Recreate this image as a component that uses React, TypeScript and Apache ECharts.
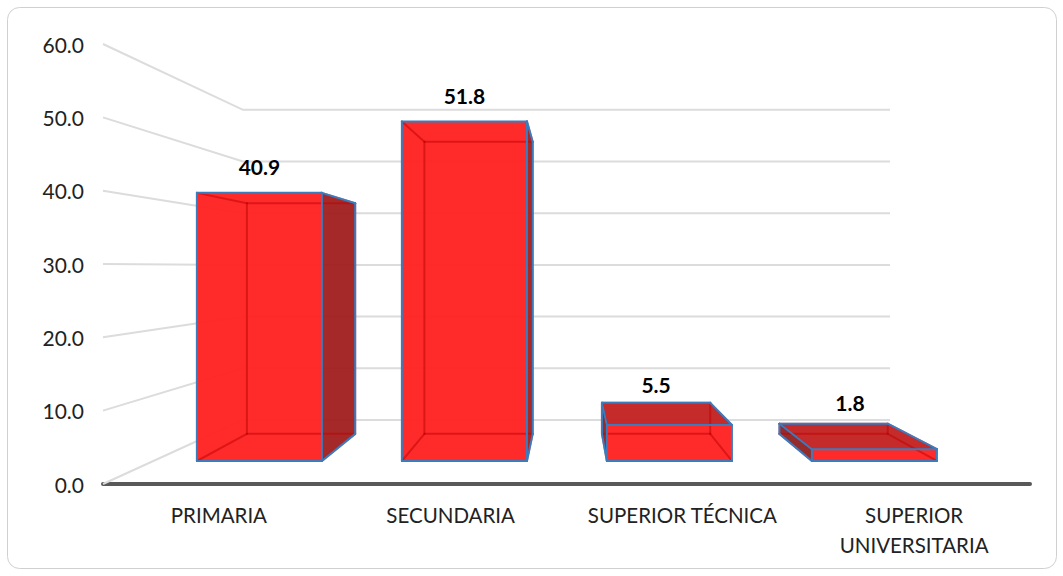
import React, { useEffect, useRef } from "react";
import * as echarts from "echarts";

const categories = ["PRIMARIA", "SECUNDARIA", "SUPERIOR TÉCNICA", "SUPERIOR\nUNIVERSITARIA"];
const values = [40.9, 51.8, 5.5, 1.8];
const yTicks = [0, 10, 20, 30, 40, 50, 60];

// Perspective model of the 3D plot: s = shrink towards the vanishing point
const WALL = { sx: 0.698, sy: 0.705 };
const FRONT = { sx: 0.8846, sy: 0.894 };
const BACK = { sx: 0.766, sy: 0.769 };
const VANISH_Y = 267;
const VANISH_X_BARS = 570;
const BAR_WIDTH = 0.61;
// Placement of each value label: depth blend (0 = front face, 1 = back face) and lift
const labelDepth = [0, 0, 1, 0.6];
const labelLift = [26, 26, 18, 21];

const FONT = "Lato, Carlito, sans-serif";
const BLUE = "#3b7cbd";
const HIDDEN = "rgba(190,0,0,0.5)";

const poly = (points: number[][], fill: string, opacity = 1) => ({
  type: "polygon",
  shape: { points },
  style: { fill, opacity, stroke: "none" },
});
const edge = (a: number[], b: number[], stroke: string, lineWidth: number) => ({
  type: "line",
  shape: { x1: a[0], y1: a[1], x2: b[0], y2: b[1] },
  style: { stroke, lineWidth, lineCap: "round" },
});

function renderWall(params: any, api: any) {
  const rect = params.coordSys;
  const y = api.coord([0, api.value(1)])[1];
  const cx = rect.x + rect.width / 2;
  const wy = VANISH_Y + (y - VANISH_Y) * WALL.sy;
  const points = [
    [rect.x, y],
    [cx - (rect.width / 2) * WALL.sx, wy],
    [cx + (rect.width / 2) * WALL.sx, wy],
  ];
  return {
    type: "polyline",
    shape: { points },
    style: { fill: "none", stroke: "#dcdcdc", lineWidth: 2 },
  };
}

function renderBar(params: any, api: any) {
  const idx = api.value(0);
  const val = api.value(1);
  const top = api.coord([idx, val]);
  const bottom = api.coord([idx, 0]);
  const half = (api.size([1, 0])[0] * BAR_WIDTH) / 2;
  const pt = (x: number, y: number, d: { sx: number; sy: number }) => [
    VANISH_X_BARS + (x - VANISH_X_BARS) * d.sx,
    VANISH_Y + (y - VANISH_Y) * d.sy,
  ];
  const fTL = pt(top[0] - half, top[1], FRONT);
  const fTR = pt(top[0] + half, top[1], FRONT);
  const fBL = pt(top[0] - half, bottom[1], FRONT);
  const fBR = pt(top[0] + half, bottom[1], FRONT);
  const bTL = pt(top[0] - half, top[1], BACK);
  const bTR = pt(top[0] + half, top[1], BACK);
  const bBL = pt(top[0] - half, bottom[1], BACK);
  const bBR = pt(top[0] + half, bottom[1], BACK);

  const showRight = bTR[0] > fTR[0];
  const showLeft = bTL[0] < fTL[0];
  const showTop = bTL[1] < fTL[1];

  const children: any[] = [];
  if (showRight) children.push(poly([fTR, bTR, bBR, fBR], "#a01c1c", 0.94));
  if (showLeft) children.push(poly([fTL, bTL, bBL, fBL], "#8e1f1f", 0.94));
  if (showTop) children.push(poly([bTL, bTR, fTR, fTL], "#c42222", 0.96));
  children.push(poly([fTL, fTR, fBR, fBL], "#ff2020", 0.95));

  // edges seen through the translucent box
  children.push(
    edge(bTL, bTR, HIDDEN, 2),
    edge(bBL, bBR, HIDDEN, 2),
    edge(bTL, bBL, HIDDEN, 2),
    edge(bTR, bBR, HIDDEN, 2),
    edge(fTL, bTL, HIDDEN, 2),
    edge(fTR, bTR, HIDDEN, 2),
    edge(fBL, bBL, HIDDEN, 2),
    edge(fBR, bBR, HIDDEN, 2)
  );

  // visible outline
  if (showTop) children.push(edge(bTL, bTR, BLUE, 2));
  if (showTop || showRight) children.push(edge(fTR, bTR, BLUE, 2));
  if (showTop || showLeft) children.push(edge(fTL, bTL, BLUE, 2));
  if (showRight) children.push(edge(bTR, bBR, BLUE, 2), edge(bBR, fBR, BLUE, 2));
  if (showLeft) children.push(edge(bTL, bBL, BLUE, 2), edge(bBL, fBL, BLUE, 2));
  children.push(
    edge(fTL, fTR, BLUE, 2),
    edge(fTR, fBR, BLUE, 2),
    edge(fBR, fBL, BLUE, 2),
    edge(fBL, fTL, BLUE, 2)
  );

  const w = labelDepth[idx];
  const frontCx = (fTL[0] + fTR[0]) / 2;
  const backCx = (bTL[0] + bTR[0]) / 2;
  children.push({
    type: "text",
    style: {
      x: frontCx + (backCx - frontCx) * w,
      y: Math.min(fTL[1], bTL[1]) - labelLift[idx],
      text: val.toFixed(1),
      align: "center",
      verticalAlign: "middle",
      fill: "#000",
      font: `bold 21px ${FONT}`,
    },
  });
  return { type: "group", children };
}

export default function App() {
  const ref = useRef<HTMLDivElement>(null);
  useEffect(() => {
    const chart = echarts.init(ref.current!, undefined, { renderer: "svg" });
    chart.setOption({
      animation: false,
      backgroundColor: "#fff",
      graphic: [
        {
          type: "rect",
          silent: true,
          z: -10,
          shape: { x: 7.5, y: 7.5, width: 1049, height: 561, r: 12 },
          style: { fill: "#fff", stroke: "#d0d0d0", lineWidth: 1 },
        },
      ],
      grid: { left: 103, top: 44, width: 927, height: 440 },
      xAxis: {
        type: "category",
        data: categories,
        axisTick: { show: false },
        axisLine: { lineStyle: { color: "#595959", width: 4, cap: "round" } },
        axisLabel: {
          color: "#222",
          fontFamily: FONT,
          fontSize: 20.5,
          lineHeight: 30,
          margin: 16,
          interval: 0,
        },
      },
      yAxis: {
        type: "value",
        min: 0,
        max: 60,
        interval: 10,
        axisLine: { show: false },
        axisTick: { show: false },
        splitLine: { show: false },
        axisLabel: {
          color: "#222",
          fontFamily: FONT,
          fontSize: 21,
          margin: 19,
          formatter: (v: number) => v.toFixed(1),
        },
      },
      series: [
        {
          type: "custom",
          name: "wall",
          silent: true,
          clip: false,
          z: 1,
          renderItem: renderWall,
          data: yTicks.map((t) => [0, t]),
          encode: { x: 0, y: 1 },
        },
        {
          type: "custom",
          name: "values",
          clip: false,
          z: 2,
          renderItem: renderBar,
          data: values.map((v, i) => [i, v]),
          encode: { x: 0, y: 1 },
        },
      ],
    });
    return () => chart.dispose();
  }, []);
  return (
    <div
      ref={ref}
      style={{ position: "absolute", left: 0, top: 0, width: 1063, height: 576 }}
    />
  );
}
